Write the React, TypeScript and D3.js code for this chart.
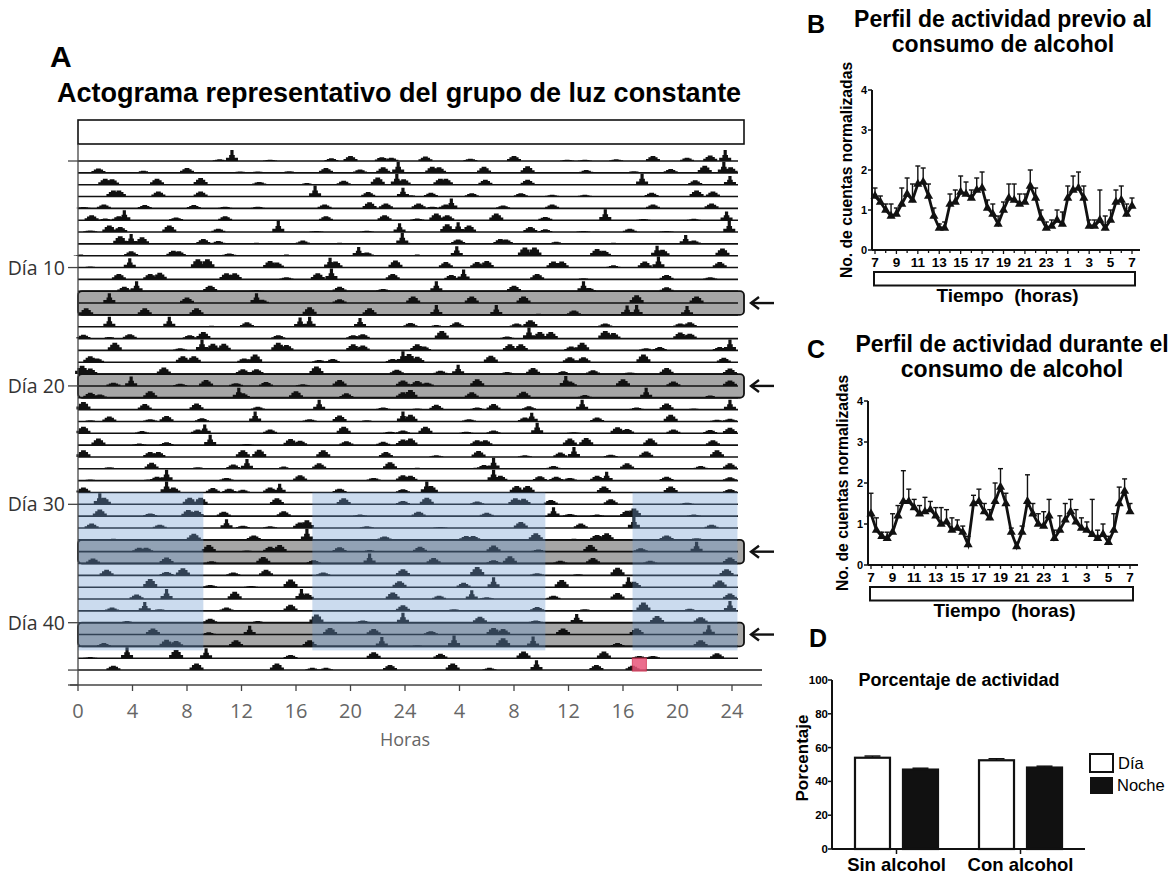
import React from 'react';
import * as d3 from 'd3';

// Actograma: por día, brotes de actividad [hora, altura relativa 0-1]
const actoDays: number[][][] = [
	[[10.4, 0.15], [11.3, 1.0], [14.1, 0.12], [18.6, 0.25], [20.0, 0.45], [22.3, 0.35], [23.0, 0.3]],
	[[1.5, 0.4], [4.8, 0.2], [8.0, 0.45], [11.9, 0.12], [13.2, 0.12], [15.5, 0.15], [18.2, 0.45], [20.7, 0.3], [22.4, 0.5], [23.5, 1.0]],
	[[2.0, 0.55], [2.5, 0.5], [5.8, 0.55], [9.0, 0.6], [13.3, 0.25], [16.8, 0.15], [19.5, 0.35], [22.0, 0.65], [23.4, 1.0], [23.9, 0.5]],
	[[2.6, 0.55], [3.0, 0.55], [5.9, 0.45], [9.0, 0.45], [17.4, 1.0], [21.3, 0.4], [23.85, 0.8]],
	[[0.4, 0.12], [1.9, 0.35], [4.9, 0.3], [8.5, 0.3], [10.8, 0.15], [13.2, 0.15], [18.1, 0.35], [21.4, 0.55], [22.6, 0.45]],
	[[1.0, 0.45], [2.0, 0.15], [3.0, 0.35], [3.4, 0.9], [7.2, 0.25], [10.8, 0.35], [18.2, 0.35], [22.5, 0.45]],
	[[0.9, 0.15], [2.3, 0.6], [3.1, 0.45], [6.7, 0.6], [10.3, 0.3], [14.7, 1.0], [17.5, 0.1], [21.2, 0.12], [23.6, 0.8]],
	[[3.1, 0.7], [3.9, 0.9], [4.7, 0.6], [9.2, 0.45], [10.3, 0.25], [13.1, 0.1], [16.5, 0.3], [19.2, 0.1], [23.8, 1.0]],
	[[0.2, 0.1], [3.9, 0.4], [7.0, 0.45], [7.4, 0.4], [11.1, 0.2], [15.3, 0.1], [20.6, 0.8], [21.2, 0.3]],
	[[0.9, 0.1], [3.8, 0.85], [8.8, 0.75], [9.5, 0.75], [14.1, 0.6], [14.6, 0.45], [18.5, 0.9], [18.9, 0.55], [23.3, 0.65]],
	[[3.0, 0.5], [5.3, 0.5], [6.0, 0.6], [10.9, 0.55], [11.5, 0.55], [15.3, 0.2], [17.6, 0.55], [18.6, 1.0], [23.1, 0.5]],
	[[3.4, 0.4], [4.3, 0.9], [9.7, 0.5], [13.1, 0.1], [19.2, 0.4], [22.4, 0.2]],
	[[2.3, 0.9], [8.0, 0.5], [13.1, 0.9], [13.5, 0.3], [19.2, 0.35]],
	[[0.6, 0.6], [4.9, 0.6], [8.7, 0.6], [17.0, 0.7], [21.4, 0.6]],
	[[2.3, 0.9], [6.7, 0.9], [9.8, 0.1], [12.4, 0.4], [16.3, 0.85], [17.0, 0.9], [20.7, 0.8]],
	[[0.4, 0.35], [2.3, 0.15], [3.8, 0.4], [8.2, 0.3], [9.2, 0.6], [14.7, 0.3], [20.2, 0.3], [20.9, 0.4]],
	[[2.7, 0.7], [7.5, 0.2], [9.1, 1.0], [9.9, 0.6], [10.7, 0.6], [14.7, 0.7], [15.3, 0.5], [20.2, 0.55], [20.9, 0.45]],
	[[0.9, 0.55], [1.4, 0.35], [7.7, 0.55], [8.5, 0.55], [12.2, 0.35], [13.0, 0.7], [17.7, 0.2], [18.7, 0.3], [23.1, 0.3], [23.85, 1.0]],
	[[0.3, 0.75], [0.9, 0.5], [6.3, 0.6], [12.1, 0.45], [13.1, 0.45], [17.5, 0.7], [23.4, 0.4]],
	[[2.6, 0.3], [3.9, 0.85], [7.5, 0.2], [9.4, 0.55], [11.6, 0.25], [13.8, 0.35], [16.5, 0.15], [19.2, 0.55], [23.85, 0.5]],
	[[0.9, 0.45], [1.6, 0.3], [5.3, 0.6], [11.8, 0.9], [12.1, 0.4], [16.0, 0.6], [19.7, 0.4], [23.85, 0.5]],
	[[0.4, 0.7], [4.9, 0.5], [8.7, 0.55], [13.2, 0.25], [17.7, 0.9], [22.4, 0.2]],
	[[0.9, 0.1], [2.3, 0.45], [5.3, 0.2], [6.5, 0.5], [9.1, 0.3], [13.0, 0.9], [17.0, 0.2], [19.2, 0.55], [21.2, 0.1], [23.85, 0.9]],
	[[0.4, 0.6], [4.7, 0.2], [8.8, 0.35], [9.3, 0.8], [14.1, 0.35], [19.5, 0.6], [22.9, 0.15], [23.85, 0.25]],
	[[1.5, 0.6], [4.5, 0.15], [6.5, 0.25], [9.7, 0.95], [12.4, 0.1], [15.6, 0.55], [16.3, 0.4], [19.7, 0.35], [22.4, 0.3], [23.85, 0.5]],
	[[0.4, 0.6], [5.3, 0.45], [5.9, 0.45], [12.1, 0.6], [13.3, 0.65], [18.0, 0.6], [22.6, 0.45]],
	[[2.3, 0.15], [5.4, 0.55], [8.8, 0.15], [11.4, 0.4], [12.4, 0.9], [15.1, 0.2], [17.7, 0.5], [22.9, 0.6]],
	[[0.9, 0.1], [5.2, 0.1], [5.8, 0.35], [6.5, 1.0], [10.9, 0.25], [16.3, 0.5], [21.7, 0.25], [23.85, 0.5]],
	[[0.4, 0.45], [6.5, 1.0], [7.0, 0.45], [9.9, 0.4], [11.1, 0.35], [12.1, 0.25], [14.1, 0.45], [14.8, 0.8], [19.2, 0.35], [23.85, 0.3]],
	[[1.6, 1.0], [1.9, 0.6], [8.2, 0.6], [9.0, 0.6], [14.6, 0.55], [19.5, 0.55], [23.85, 0.3]],
	[[1.6, 0.6], [5.3, 0.25], [8.1, 0.55], [8.7, 0.5], [10.7, 0.4], [15.1, 0.45], [20.7, 0.15]],
	[[1.0, 0.4], [6.0, 0.3], [10.9, 0.8], [12.1, 0.2], [14.1, 0.15], [16.3, 0.5], [16.8, 0.7], [21.2, 0.15]],
	[[2.6, 0.1], [8.5, 0.55], [12.9, 0.4], [16.8, 1.0], [22.5, 0.3]],
	[[4.5, 0.35], [5.0, 0.35], [9.6, 0.6], [12.4, 0.1], [14.1, 0.45], [14.8, 0.6], [19.2, 0.4], [21.4, 0.15]],
	[[1.1, 0.45], [6.5, 0.55], [9.8, 0.2], [13.6, 0.6], [17.3, 0.3], [21.4, 0.9]],
	[[2.1, 0.5], [6.5, 0.3], [7.7, 0.65], [11.4, 0.25], [13.8, 0.5], [18.0, 0.25], [23.85, 0.55]],
	[[5.3, 0.75], [9.7, 0.2], [12.7, 0.1], [15.6, 0.7], [23.6, 0.55]],
	[[4.3, 0.4], [6.5, 0.9], [11.5, 0.65], [16.4, 0.9], [16.8, 0.5], [23.1, 0.6]],
	[[2.5, 0.3], [4.9, 0.8], [6.0, 0.15], [10.9, 0.3], [15.6, 0.55], [23.85, 0.5]],
	[[3.6, 0.15], [9.7, 0.35], [13.2, 0.15], [17.5, 0.75], [20.9, 0.2], [23.85, 0.9]],
	[[5.5, 0.55], [9.6, 0.2], [12.6, 0.8], [18.5, 0.6], [21.7, 0.5]],
	[[1.9, 0.3], [6.5, 0.6], [7.2, 0.5], [11.6, 0.55], [17.0, 0.55], [22.3, 0.85]],
	[[0.9, 0.1], [3.6, 1.0], [7.2, 0.75], [9.4, 0.9], [15.6, 0.3], [21.7, 0.55]],
	[[2.6, 0.4], [8.7, 0.6], [14.6, 0.6], [17.2, 0.2], [18.2, 0.2], [22.9, 0.45]],
	[[3.5, 0.6], [6.2, 0.2], [9.65, 0.9], [14.05, 0.45], [16.7, 0.4]],
];
const rowsShown = 44;
const highlightedPairs = [[13, 14], [20, 21], [34, 35], [41, 42]];
const nightBands = [[0, 9.2], [17.2, 34.3], [40.7, 48.4]];
const nightRows = [29, 42];
const dayTicks = [1, 10, 20, 30, 40, 44];
const dayLabels = [10, 20, 30, 40];
const hourTicks = d3.range(0, 49, 4);
const markerHour = 41.2;

// Perfiles (bins de 30 min, de 7:00 a 7:00)
const profileTickLabels = [7, 9, 11, 13, 15, 17, 19, 21, 23, 1, 3, 5, 7];
const preMean = [1.35, 1.2, 1.0, 0.85, 0.9, 1.15, 1.4, 1.25, 1.65, 1.7, 1.35, 0.85, 0.55, 0.55, 1.15, 1.2,
	1.45, 1.4, 1.3, 1.5, 1.55, 1.05, 0.9, 0.65, 1.0, 1.3, 1.25, 1.15, 1.2, 1.6, 1.3, 0.8, 0.55, 0.6, 0.75, 0.65,
	1.3, 1.5, 1.55, 1.3, 0.6, 0.6, 0.75, 0.55, 0.75, 1.2, 1.25, 0.9, 1.1];
const preSem = [0.2, 0.15, 0.15, 0.3, 0.15, 0.4, 0.4, 0.4, 0.45, 0.35, 0.3, 0.2, 0.1, 0.15, 0.25, 0.3,
	0.4, 0.3, 0.2, 0.3, 0.4, 0.2, 0.25, 0.2, 0.2, 0.35, 0.4, 0.25, 0.2, 0.4, 0.25, 0.2, 0.15, 0.15, 0.25, 0.3,
	0.3, 0.35, 0.4, 0.3, 0.15, 0.15, 0.75, 0.3, 0.25, 0.3, 0.35, 0.25, 0.2];
const durMean = [1.25, 0.85, 0.7, 0.65, 0.8, 1.2, 1.55, 1.55, 1.4, 1.25, 1.3, 1.35, 1.2, 1.0, 1.05, 0.85,
	0.9, 0.8, 0.5, 1.5, 1.55, 1.3, 1.15, 1.55, 1.9, 1.5, 0.8, 0.45, 0.8, 1.55, 1.25, 1.0, 0.95, 1.2, 0.65, 0.85,
	1.1, 1.3, 1.05, 0.9, 0.85, 0.75, 0.65, 0.75, 0.55, 0.85, 1.5, 1.8, 1.3];
const durSem = [0.5, 0.3, 0.1, 0.15, 0.45, 0.25, 0.75, 0.3, 0.2, 0.2, 0.35, 0.2, 0.2, 0.4, 0.3, 0.3,
	0.2, 0.15, 0.2, 0.2, 0.3, 0.2, 0.2, 0.45, 0.45, 0.25, 0.1, 0.1, 0.15, 0.65, 0.25, 0.25, 0.35, 0.4, 0.2, 0.35,
	0.4, 0.3, 0.3, 0.25, 0.2, 0.85, 0.2, 0.25, 0.15, 0.4, 0.4, 0.3, 0.2];

// Porcentaje de actividad
const pctGroups = ['Sin alcohol', 'Con alcohol'];
const pctDay = [54, 52.5];
const pctNight = [47, 48.2];
const pctDaySem = [1.0, 0.9];
const pctNightSem = [0.8, 0.8];
const pctTicks = [0, 20, 40, 60, 80, 100];

const BOLD = '"Liberation Sans", Arial, sans-serif';
const SOFT = '"Open Sans", sans-serif';
const INK = '#111';

const xAct = d3.scaleLinear().domain([0, 48]).range([78, 732]);
const yRow = d3.scaleLinear().domain([1, 40]).range([161, 622.7]);

const burstPath = (x: number, y0: number, h: number) => {
	const H = h * 11;
	const steps = h >= 0.8 ? [[6, 0.3], [2.8, 0.55], [1.6, 1]] : [[7, 0.4], [4.6, 0.75], [2.4, 1]];
	const pts: [number, number][] = [];
	let prev = y0;
	steps.forEach(([w, f]) => {
		pts.push([x - w, prev], [x - w, y0 - H * f]);
		prev = y0 - H * f;
	});
	const right = pts.map(([px, py]) => [2 * x - px, py] as [number, number]).reverse();
	return `${ d3.line()([...pts, ...right]) }Z`;
};

const Actogram = () => {
	const rows = d3.range(1, rowsShown + 1);
	return (
		<g>
			<text x={ 50 } y={ 67 } fontFamily={ BOLD } fontWeight="bold" fontSize={ 30 }>A</text>
			<text x={ 57 } y={ 102 } fontFamily={ BOLD } fontWeight="bold" fontSize={ 27 }>
				Actograma representativo del grupo de luz constante
			</text>
			<rect x={ 78 } y={ 120 } width={ 666 } height={ 24 } fill="none" stroke={ INK } strokeWidth={ 1.6 }/>
			{ highlightedPairs.map(([a, b]) => (
				<rect key={ a } x={ 78 } y={ yRow(a - 1) } width={ 666 } height={ yRow(b) - yRow(a - 1) }
					rx={ 4 } fill="#a6a6a6"/>
			)) }
			{ rows.map((n) => (
				<g key={ n } fill={ INK }>
					{ actoDays[n - 1].map(([hr, h], i) => (
						<path key={ `l${ i }` } d={ burstPath(xAct(hr), yRow(n), h) }/>
					)) }
					{ (actoDays[n] || []).map(([hr, h], i) => (
						<path key={ `r${ i }` } d={ burstPath(xAct(hr + 24), yRow(n), h) }/>
					)) }
					<line x1={ 78 } x2={ n === rowsShown ? 762 : 738 } y1={ yRow(n) } y2={ yRow(n) }
						stroke={ INK } strokeWidth={ 1.6 }/>
				</g>
			)) }
			{ highlightedPairs.map(([a, b]) => (
				<rect key={ a } x={ 78 } y={ yRow(a - 1) } width={ 666 } height={ yRow(b) - yRow(a - 1) }
					rx={ 4 } fill="none" stroke={ INK } strokeWidth={ 1.8 }/>
			)) }
			{ nightBands.map(([h0, h1]) => (
				<rect key={ h0 } x={ xAct(h0) } y={ yRow(nightRows[0]) } width={ xAct(h1) - xAct(h0) }
					height={ yRow(nightRows[1]) + 4 - yRow(nightRows[0]) } fill="#6e9bd1" opacity={ 0.36 }/>
			)) }
			<rect x={ xAct(markerHour) - 7 } y={ yRow(44) - 12 } width={ 14 } height={ 13 }
				fill="#e8557a" opacity={ 0.85 } stroke="#d0304f"/>
			{ highlightedPairs.map(([a, b]) => {
				const y = (yRow(a - 1) + yRow(b)) / 2;
				return (
					<g key={ a } stroke={ INK } strokeWidth={ 2.4 } fill="none">
						<line x1={ 751 } x2={ 774 } y1={ y } y2={ y }/>
						<polyline points={ `759,${ y - 6 } 751,${ y } 759,${ y + 6 }` }/>
					</g>
				);
			}) }
			<line x1={ 78 } x2={ 78 } y1={ 144 } y2={ 685 } stroke="#444" strokeWidth={ 1.3 }/>
			{ dayTicks.map((d) => (
				<line key={ d } x1={ 68 } x2={ 78 } y1={ yRow(d) } y2={ yRow(d) } stroke="#444" strokeWidth={ 1.3 }/>
			)) }
			<line x1={ 68 } x2={ 78 } y1={ 685 } y2={ 685 } stroke="#444" strokeWidth={ 1.3 }/>
			{ dayLabels.map((d) => (
				<text key={ d } x={ 65 } y={ yRow(d) + 7 } textAnchor="end" fontFamily={ SOFT }
					fontSize={ 19.5 } fill="#333">{ `Día ${ d }` }</text>
			)) }
			<line x1={ 70 } x2={ 762 } y1={ 685 } y2={ 685 } stroke="#444" strokeWidth={ 1.3 }/>
			{ hourTicks.map((h) => (
				<g key={ h }>
					<line x1={ xAct(h) } x2={ xAct(h) } y1={ 685 } y2={ 691 } stroke="#444" strokeWidth={ 1.3 }/>
					<text x={ xAct(h) } y={ 718 } textAnchor="middle" fontFamily={ SOFT } fontSize={ 20 }
						fill="#666">{ h > 0 && h % 24 === 0 ? 24 : h % 24 }</text>
				</g>
			)) }
			<text x={ 405 } y={ 746 } textAnchor="middle" fontFamily={ SOFT } fontSize={ 18 } fill="#666">Horas</text>
		</g>
	);
};

const Profile = ({ letter, lines, top, mean, sem, x0, x1, yAxisX, y0, y4, cx }: any) => {
	const x = d3.scaleLinear().domain([0, 48]).range([x0, x1]);
	const y = d3.scaleLinear().domain([0, 4]).range([y0, y4]);
	const line = d3.line<number>().x((_, i) => x(i)).y((v) => y(v));
	const tri = d3.symbol(d3.symbolTriangle, 36)();
	return (
		<g fontFamily={ BOLD } fontWeight="bold">
			<text x={ 807 } y={ top + 21 } fontSize={ 25 }>{ letter }</text>
			{ lines.map((t: string, i: number) => (
				<text key={ i } x={ cx } y={ top + 15 + i * 24.5 } textAnchor="middle" fontSize={ 23 }>{ t }</text>
			)) }
			<text transform={ `translate(${ yAxisX - 20 },${ (y0 + y4) / 2 }) rotate(-90)` } textAnchor="middle"
				fontSize={ 15.7 }>No. de cuentas normalizadas</text>
			<line x1={ yAxisX } x2={ yAxisX } y1={ y4 } y2={ y0 } stroke={ INK } strokeWidth={ 2 }/>
			{ d3.range(0, 5).map((v) => (
				<g key={ v }>
					<line x1={ yAxisX - 4 } x2={ yAxisX } y1={ y(v) } y2={ y(v) } stroke={ INK } strokeWidth={ 1.5 }/>
					<text x={ yAxisX - 5 } y={ y(v) + 4 } textAnchor="end" fontSize={ 11 }>{ v }</text>
				</g>
			)) }
			<line x1={ yAxisX } x2={ x1 + 8 } y1={ y0 } y2={ y0 } stroke={ INK } strokeWidth={ 2 }/>
			{ d3.range(0, 49, 2).map((i) => (
				<line key={ i } x1={ x(i) } x2={ x(i) } y1={ y0 } y2={ y0 + (i % 4 === 0 ? 4 : 3) }
					stroke={ INK } strokeWidth={ 1.3 }/>
			)) }
			{ profileTickLabels.map((t, k) => (
				<text key={ k } x={ x(k * 4) } y={ y0 + 17 } textAnchor="middle" fontSize={ 13.5 }>{ t }</text>
			)) }
			<rect x={ x0 - 1 } y={ y0 + 22 } width={ x1 - x0 + 4 } height={ 13.5 } fill="none" stroke={ INK }
				strokeWidth={ 2 }/>
			<text x={ (x0 + x1) / 2 + 4 } y={ y0 + 52 } textAnchor="middle" fontSize={ 19 }
				style={ { whiteSpace: 'pre' } }>Tiempo  (horas)</text>
			{ mean.map((v: number, i: number) => (
				<g key={ i } stroke={ INK } strokeWidth={ 1.4 }>
					<line x1={ x(i) } x2={ x(i) } y1={ y(v) } y2={ y(v + sem[i]) }/>
					<line x1={ x(i) - 2.5 } x2={ x(i) + 2.5 } y1={ y(v + sem[i]) } y2={ y(v + sem[i]) }/>
				</g>
			)) }
			<path d={ line(mean) || '' } fill="none" stroke={ INK } strokeWidth={ 2.8 }/>
			{ mean.map((v: number, i: number) => (
				<path key={ i } d={ tri || '' } transform={ `translate(${ x(i) },${ y(v) })` } fill={ INK }/>
			)) }
		</g>
	);
};

const Percentages = () => {
	const y = d3.scaleLinear().domain([0, 100]).range([849, 680]);
	const x = d3.scalePoint().domain(pctGroups).range([832, 1085]).padding(0.52);
	const bw = 35;
	return (
		<g fontFamily={ BOLD } fontWeight="bold">
			<text x={ 809 } y={ 647 } fontSize={ 25 }>D</text>
			<text x={ 959 } y={ 686 } textAnchor="middle" fontSize={ 18 }>Porcentaje de actividad</text>
			<text transform="translate(808,758) rotate(-90)" textAnchor="middle" fontSize={ 17 }>Porcentaje</text>
			<line x1={ 832 } x2={ 832 } y1={ 680 } y2={ 849 } stroke={ INK } strokeWidth={ 2 }/>
			{ pctTicks.map((t) => (
				<g key={ t }>
					<line x1={ 828 } x2={ 832 } y1={ y(t) } y2={ y(t) } stroke={ INK } strokeWidth={ 1.5 }/>
					<text x={ 828 } y={ y(t) + 4 } textAnchor="end" fontSize={ 11.5 }>{ t }</text>
				</g>
			)) }
			{ pctGroups.map((g, i) => {
				const cx = x(g) as number;
				const bars = [[cx - 24, pctDay[i], pctDaySem[i], '#fff'], [cx + 24, pctNight[i], pctNightSem[i], INK]];
				return (
					<g key={ g }>
						{ bars.map(([bx, v, s, fill]: any, k) => (
							<g key={ k }>
								<line x1={ bx } x2={ bx } y1={ y(v) } y2={ y(v + s) } stroke={ INK } strokeWidth={ 1.5 }/>
								<line x1={ bx - 8 } x2={ bx + 8 } y1={ y(v + s) } y2={ y(v + s) } stroke={ INK }
									strokeWidth={ 1.5 }/>
								<rect x={ bx - bw / 2 } y={ y(v) } width={ bw } height={ y(0) - y(v) } fill={ fill }
									stroke={ INK } strokeWidth={ 2.2 }/>
							</g>
						)) }
						<line x1={ cx } x2={ cx } y1={ 849 } y2={ 854 } stroke={ INK } strokeWidth={ 1.5 }/>
						<text x={ cx } y={ 871 } textAnchor="middle" fontSize={ 18.5 }>{ g }</text>
					</g>
				);
			}) }
			<line x1={ 832 } x2={ 1085 } y1={ 849 } y2={ 849 } stroke={ INK } strokeWidth={ 2 }/>
			<rect x={ 1090 } y={ 754 } width={ 23 } height={ 18 } fill="#fff" stroke={ INK } strokeWidth={ 2 }/>
			<rect x={ 1090 } y={ 777 } width={ 23 } height={ 17 } fill={ INK }/>
			<text x={ 1118 } y={ 769 } fontSize={ 16.5 } fontWeight="normal">Día</text>
			<text x={ 1117 } y={ 791 } fontSize={ 16.5 } fontWeight="normal">Noche</text>
		</g>
	);
};

const App = () => (
	<svg width={ 1173 } height={ 877 } style={ { position: 'absolute', left: 0, top: 0, background: '#fff' } }>
		<Actogram/>
		<Profile letter="B" lines={ ['Perfil de actividad previo al', 'consumo de alcohol'] } top={ 12 }
			mean={ preMean } sem={ preSem } x0={ 875 } x1={ 1132 } yAxisX={ 872 } y0={ 250 } y4={ 90 } cx={ 1003 }/>
		<Profile letter="C" lines={ ['Perfil de actividad durante el', 'consumo de alcohol'] } top={ 337 }
			mean={ durMean } sem={ durSem } x0={ 871 } x1={ 1130 } yAxisX={ 868 } y0={ 565 } y4={ 401 } cx={ 1012 }/>
		<Percentages/>
	</svg>
);

export default App;
